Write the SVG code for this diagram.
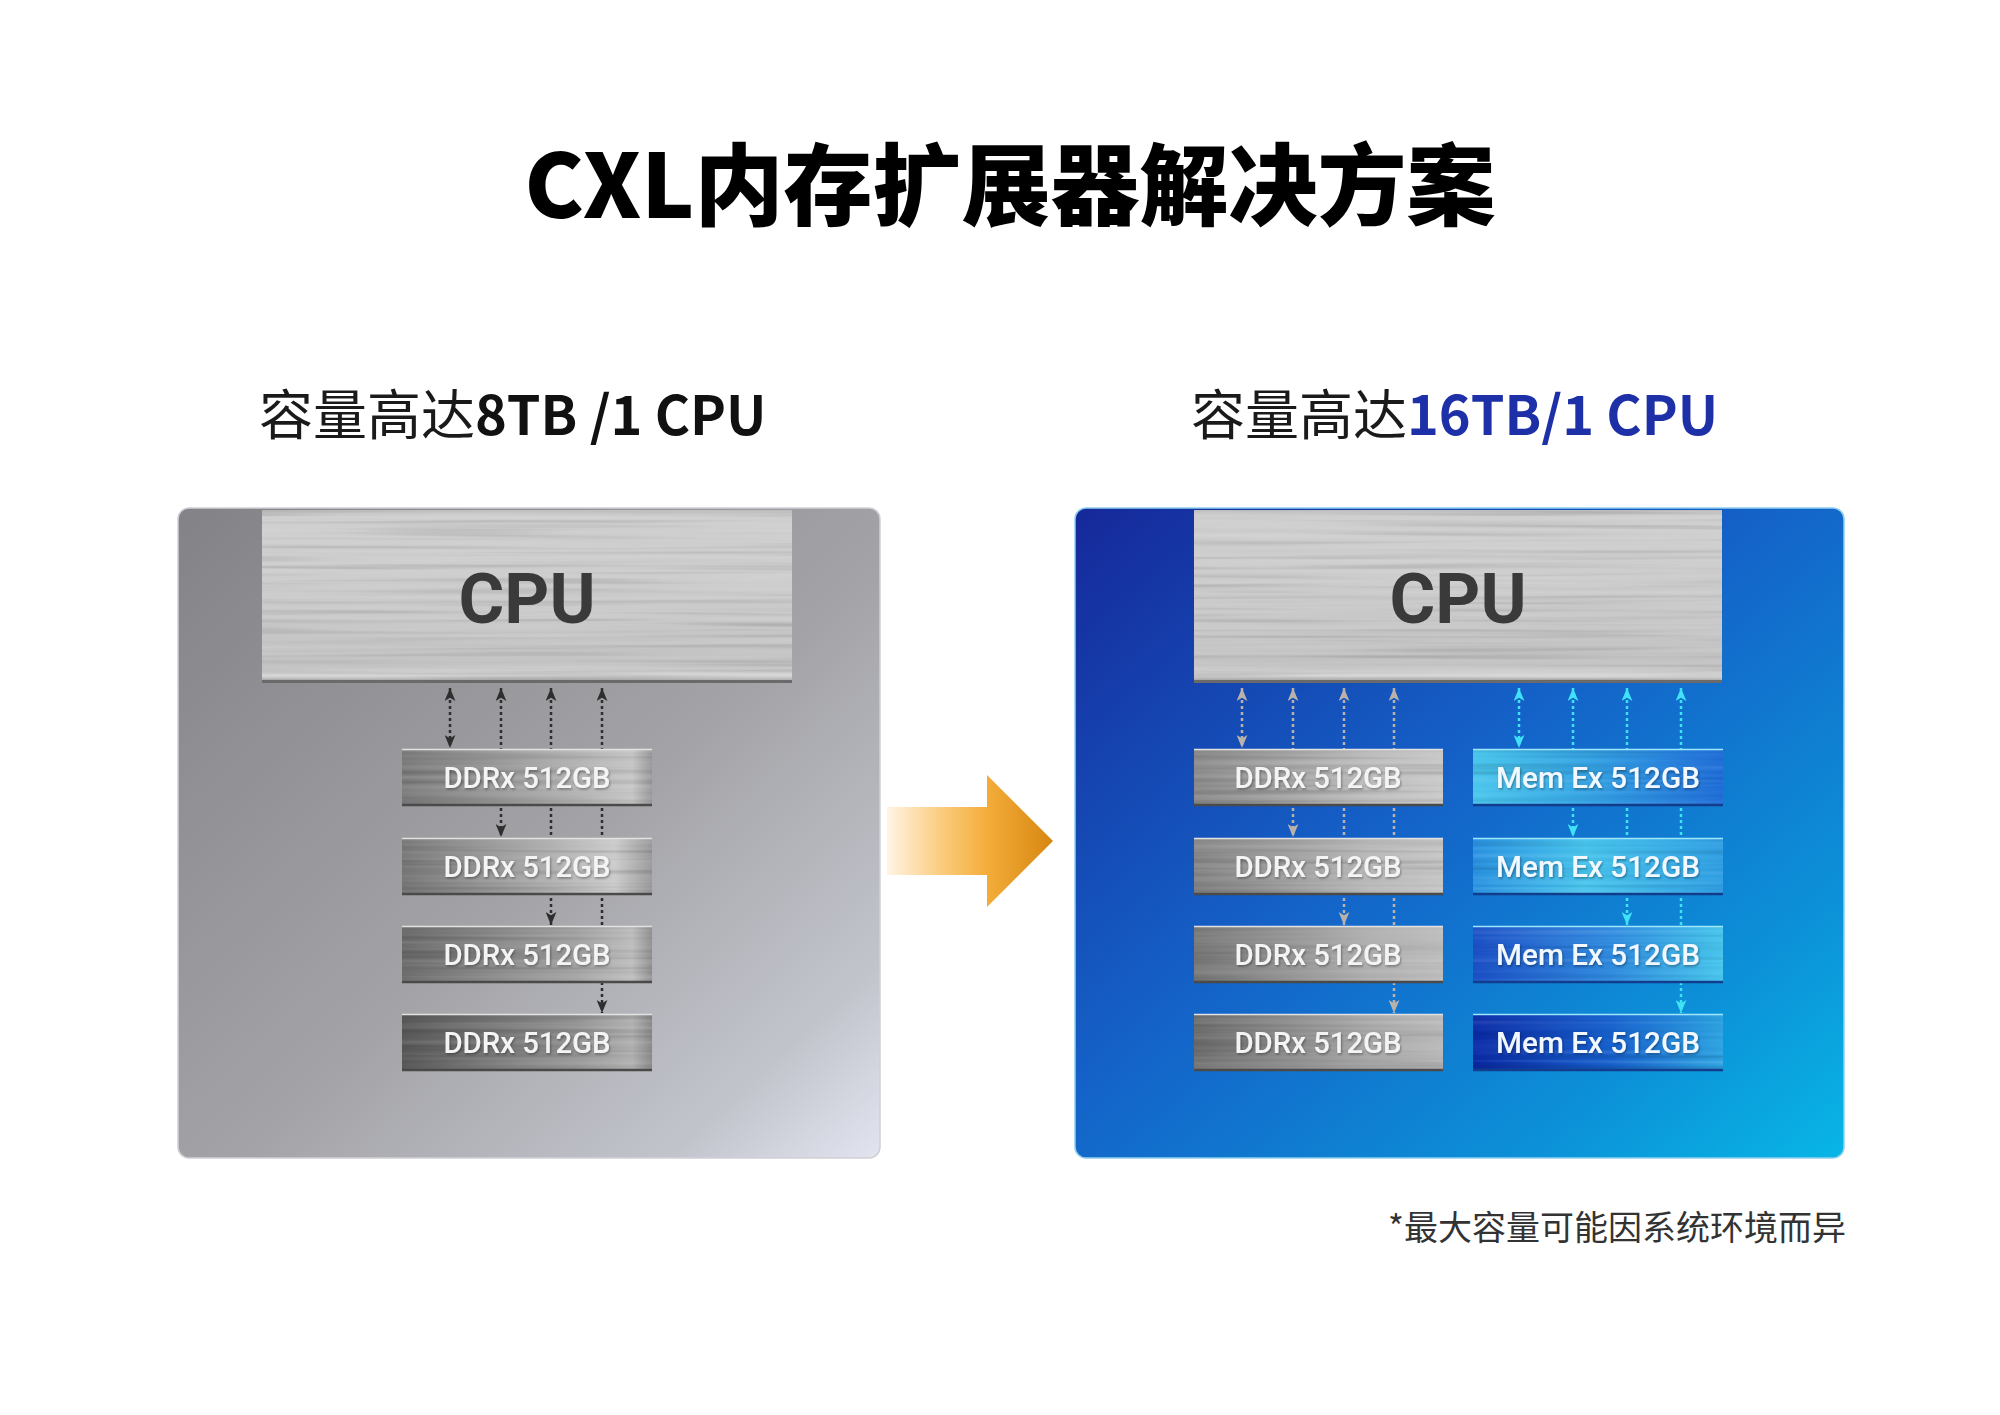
<svg xmlns="http://www.w3.org/2000/svg" width="2000" height="1415" viewBox="0 0 2000 1415">
<defs>
<style>
.title{font-family:"Noto Sans CJK SC","Noto Sans",sans-serif;font-weight:900;font-size:89px;fill:#000}
.sub{font-family:"Noto Sans CJK SC","Noto Sans",sans-serif;font-size:54px;fill:#1a1a1a}
.subb{font-weight:700}
.note{font-family:"Noto Sans CJK SC","Noto Sans",sans-serif;font-size:34px;fill:#333}
.cpu{font-family:Roboto,"Liberation Sans",sans-serif;font-weight:700;font-size:70px;fill:#3a3a3a;text-anchor:middle}
.lbl{font-family:Roboto,"Liberation Sans",sans-serif;font-weight:500;font-size:30px;fill:#f4f4f4;text-anchor:middle}
.lblb{fill:#f2f8ff}
.dk{fill:none;stroke:#2e2e2e;stroke-width:2.5;stroke-dasharray:3 3}
.gy{fill:none;stroke:#bab2aa;stroke-width:2.5;stroke-dasharray:3 3}
.cy{fill:none;stroke:#3fe2f6;stroke-width:2.5;stroke-dasharray:3 3}
.edgeT{stroke:#e2e2e2;stroke-width:1.5}
.edgeB{stroke:#4a4a4a;stroke-width:2.5}
.edgeTb{stroke:#9ee6fa;stroke-width:1.5}
.edgeBb{stroke:#123d8c;stroke-width:2.5}
</style>
<linearGradient id="panelL" x1="0" y1="0" x2="1" y2="1">
<stop offset="0" stop-color="#838387"/>
<stop offset="0.55" stop-color="#a4a4a8"/>
<stop offset="0.85" stop-color="#c2c4cc"/>
<stop offset="1" stop-color="#e2e5f0"/>
</linearGradient>
<linearGradient id="panelR" x1="0" y1="0" x2="1" y2="1">
<stop offset="0" stop-color="#16289a"/>
<stop offset="0.45" stop-color="#1462c8"/>
<stop offset="0.8" stop-color="#0c92d8"/>
<stop offset="1" stop-color="#08b6e6"/>
</linearGradient>
<linearGradient id="cpuG" x1="0" y1="0" x2="0" y2="1">
<stop offset="0" stop-color="#bdbdbd"/>
<stop offset="0.04" stop-color="#cfcfcf"/>
<stop offset="0.5" stop-color="#cbcbcb"/>
<stop offset="0.9" stop-color="#c2c2c2"/>
<stop offset="0.96" stop-color="#d6d6d6"/>
<stop offset="1" stop-color="#8a8a8a"/>
</linearGradient>
<linearGradient id="d1" x1="0" y1="0" x2="1" y2="0"><stop offset="0" stop-color="#7c7c7c"/><stop offset="0.7" stop-color="#b4b4b4"/><stop offset="0.92" stop-color="#c6c6c6"/><stop offset="1" stop-color="#9a9a9a"/></linearGradient>
<linearGradient id="d2" x1="0" y1="0" x2="1" y2="0"><stop offset="0" stop-color="#777"/><stop offset="0.6" stop-color="#b0b0b0"/><stop offset="0.85" stop-color="#cbcbcb"/><stop offset="1" stop-color="#9a9a9a"/></linearGradient>
<linearGradient id="d3" x1="0" y1="0" x2="1" y2="0"><stop offset="0" stop-color="#6a6a6a"/><stop offset="0.7" stop-color="#a2a2a2"/><stop offset="0.92" stop-color="#bdbdbd"/><stop offset="1" stop-color="#919191"/></linearGradient>
<linearGradient id="d4" x1="0" y1="0" x2="1" y2="0"><stop offset="0" stop-color="#585858"/><stop offset="0.7" stop-color="#939393"/><stop offset="0.92" stop-color="#b0b0b0"/><stop offset="1" stop-color="#8a8a8a"/></linearGradient>
<linearGradient id="r1" x1="0" y1="0" x2="1" y2="0"><stop offset="0" stop-color="#8c8c8c"/><stop offset="0.7" stop-color="#bcbcbc"/><stop offset="1" stop-color="#c8c8c8"/></linearGradient>
<linearGradient id="r2" x1="0" y1="0" x2="1" y2="0"><stop offset="0" stop-color="#858585"/><stop offset="0.7" stop-color="#b8b8b8"/><stop offset="1" stop-color="#c4c4c4"/></linearGradient>
<linearGradient id="r3" x1="0" y1="0" x2="1" y2="0"><stop offset="0" stop-color="#787878"/><stop offset="0.7" stop-color="#b0b0b0"/><stop offset="1" stop-color="#bdbdbd"/></linearGradient>
<linearGradient id="r4" x1="0" y1="0" x2="1" y2="0"><stop offset="0" stop-color="#6c6c6c"/><stop offset="0.7" stop-color="#a8a8a8"/><stop offset="1" stop-color="#b8b8b8"/></linearGradient>
<linearGradient id="m1" x1="0" y1="0" x2="1" y2="0"><stop offset="0" stop-color="#4ac6ec"/><stop offset="0.45" stop-color="#35a4e4"/><stop offset="1" stop-color="#1f6cd6"/></linearGradient>
<linearGradient id="m2" x1="0" y1="0" x2="1" y2="0"><stop offset="0" stop-color="#2a92e0"/><stop offset="0.45" stop-color="#48c4ec"/><stop offset="1" stop-color="#309ee2"/></linearGradient>
<linearGradient id="m3" x1="0" y1="0" x2="1" y2="0"><stop offset="0" stop-color="#1c50c6"/><stop offset="0.55" stop-color="#2f8ade"/><stop offset="1" stop-color="#48c6ec"/></linearGradient>
<linearGradient id="m4" x1="0" y1="0" x2="1" y2="0"><stop offset="0" stop-color="#0a2aa6"/><stop offset="0.55" stop-color="#1660cc"/><stop offset="1" stop-color="#2ea4e2"/></linearGradient>
<linearGradient id="orange" x1="887" y1="0" x2="1053" y2="0" gradientUnits="userSpaceOnUse">
<stop offset="0" stop-color="#fff4e6"/>
<stop offset="0.3" stop-color="#fbcf86"/>
<stop offset="0.6" stop-color="#f4ad3a"/>
<stop offset="1" stop-color="#d68710"/>
</linearGradient>
<filter id="brush" x="0" y="0" width="100%" height="100%" color-interpolation-filters="sRGB">
<feTurbulence type="fractalNoise" baseFrequency="0.003 0.2" numOctaves="2" seed="4" result="n"/>
<feColorMatrix in="n" type="matrix" values="0.09 0.09 0.09 0 0.365  0.09 0.09 0.09 0 0.365  0.09 0.09 0.09 0 0.365  0 0 0 0 1" result="g"/>
<feBlend in="SourceGraphic" in2="g" mode="overlay" result="b"/>
<feComposite in="b" in2="SourceGraphic" operator="in"/>
</filter>
<filter id="tsh" x="-10%" y="-30%" width="120%" height="160%">
<feDropShadow dx="1" dy="1.5" stdDeviation="1" flood-color="#000" flood-opacity="0.35"/>
</filter>
<marker id="aK" viewBox="0 0 12 10" refX="12" refY="5" markerWidth="13" markerHeight="11" markerUnits="userSpaceOnUse" orient="auto-start-reverse"><path d="M0,0 L12,5 L0,10 L3,5 Z" fill="#2e2e2e"/></marker>
<marker id="aG" viewBox="0 0 12 10" refX="12" refY="5" markerWidth="13" markerHeight="11" markerUnits="userSpaceOnUse" orient="auto-start-reverse"><path d="M0,0 L12,5 L0,10 L3,5 Z" fill="#bab2aa"/></marker>
<marker id="aC" viewBox="0 0 12 10" refX="12" refY="5" markerWidth="13" markerHeight="11" markerUnits="userSpaceOnUse" orient="auto-start-reverse"><path d="M0,0 L12,5 L0,10 L3,5 Z" fill="#3fe2f6"/></marker>
</defs>
<rect width="2000" height="1415" fill="#ffffff"/>

<text class="title" x="1010" y="218" text-anchor="middle">CXL内存扩展器解决方案</text>
<text class="sub" x="259" y="435">容量高达<tspan class="subb" fill="#111">8TB /1 CPU</tspan></text>
<text class="sub" x="1191" y="435">容量高达<tspan class="subb" fill="#1e30a8">16TB/1 CPU</tspan></text>

<g id="panel-left">
<rect x="178" y="508" width="702" height="650" rx="11" fill="url(#panelL)" stroke="#cfd0d6" stroke-width="1.5"/>
</g>
<g id="panel-right">
<rect x="1075" y="508" width="769" height="650" rx="11" fill="url(#panelR)" stroke="#8fd0f0" stroke-width="1.5"/>
</g>

<g id="transition-arrow">
<path d="M887,807 L987,807 L987,775 L1053,841 L987,907 L987,875 L887,875 Z" fill="url(#orange)"/>
</g>

<g id="connectors">
<path class="dk" d="M450,688 V748" marker-start="url(#aK)" marker-end="url(#aK)"/>
<path class="dk" d="M501,688 V837" marker-start="url(#aK)" marker-end="url(#aK)"/>
<path class="dk" d="M551,688 V925" marker-start="url(#aK)" marker-end="url(#aK)"/>
<path class="dk" d="M602,688 V1013" marker-start="url(#aK)" marker-end="url(#aK)"/>
<path class="gy" d="M1242,688 V748" marker-start="url(#aG)" marker-end="url(#aG)"/>
<path class="gy" d="M1293,688 V837" marker-start="url(#aG)" marker-end="url(#aG)"/>
<path class="gy" d="M1344,688 V925" marker-start="url(#aG)" marker-end="url(#aG)"/>
<path class="gy" d="M1394,688 V1013" marker-start="url(#aG)" marker-end="url(#aG)"/>
<path class="cy" d="M1519,688 V748" marker-start="url(#aC)" marker-end="url(#aC)"/>
<path class="cy" d="M1573,688 V837" marker-start="url(#aC)" marker-end="url(#aC)"/>
<path class="cy" d="M1627,688 V925" marker-start="url(#aC)" marker-end="url(#aC)"/>
<path class="cy" d="M1681,688 V1013" marker-start="url(#aC)" marker-end="url(#aC)"/>
</g>

<g id="cpu-left">
<rect x="262" y="510" width="530" height="173" fill="url(#cpuG)" filter="url(#brush)"/>
<line x1="262" y1="681.5" x2="792" y2="681.5" stroke="#6a6a6a" stroke-width="3"/>
<text class="cpu" x="527" y="623">CPU</text>
</g>
<g id="cpu-right">
<rect x="1194" y="510" width="528" height="173" fill="url(#cpuG)" filter="url(#brush)"/>
<line x1="1194" y1="681.5" x2="1722" y2="681.5" stroke="#6a6a6a" stroke-width="3"/>
<text class="cpu" x="1458" y="623">CPU</text>
</g>

<g id="ddr-left-1">
<rect x="402" y="749" width="250" height="57" fill="url(#d1)" filter="url(#brush)"/>
<line class="edgeT" x1="402" y1="749.5" x2="652" y2="749.5"/><line class="edgeB" x1="402" y1="805" x2="652" y2="805"/>
<text class="lbl" x="527" y="788" textLength="167" lengthAdjust="spacingAndGlyphs" filter="url(#tsh)">DDRx 512GB</text>
</g>
<g id="ddr-left-2">
<rect x="402" y="838" width="250" height="57" fill="url(#d2)" filter="url(#brush)"/>
<line class="edgeT" x1="402" y1="838.5" x2="652" y2="838.5"/><line class="edgeB" x1="402" y1="894" x2="652" y2="894"/>
<text class="lbl" x="527" y="877" textLength="167" lengthAdjust="spacingAndGlyphs" filter="url(#tsh)">DDRx 512GB</text>
</g>
<g id="ddr-left-3">
<rect x="402" y="926" width="250" height="57" fill="url(#d3)" filter="url(#brush)"/>
<line class="edgeT" x1="402" y1="926.5" x2="652" y2="926.5"/><line class="edgeB" x1="402" y1="982" x2="652" y2="982"/>
<text class="lbl" x="527" y="965" textLength="167" lengthAdjust="spacingAndGlyphs" filter="url(#tsh)">DDRx 512GB</text>
</g>
<g id="ddr-left-4">
<rect x="402" y="1014" width="250" height="57" fill="url(#d4)" filter="url(#brush)"/>
<line class="edgeT" x1="402" y1="1014.5" x2="652" y2="1014.5"/><line class="edgeB" x1="402" y1="1070" x2="652" y2="1070"/>
<text class="lbl" x="527" y="1053" textLength="167" lengthAdjust="spacingAndGlyphs" filter="url(#tsh)">DDRx 512GB</text>
</g>

<g id="ddr-right-1">
<rect x="1194" y="749" width="249" height="57" fill="url(#r1)" filter="url(#brush)"/>
<line class="edgeT" x1="1194" y1="749.5" x2="1443" y2="749.5"/><line class="edgeB" x1="1194" y1="805" x2="1443" y2="805"/>
<text class="lbl" x="1318" y="788" textLength="167" lengthAdjust="spacingAndGlyphs" filter="url(#tsh)">DDRx 512GB</text>
</g>
<g id="ddr-right-2">
<rect x="1194" y="838" width="249" height="57" fill="url(#r2)" filter="url(#brush)"/>
<line class="edgeT" x1="1194" y1="838.5" x2="1443" y2="838.5"/><line class="edgeB" x1="1194" y1="894" x2="1443" y2="894"/>
<text class="lbl" x="1318" y="877" textLength="167" lengthAdjust="spacingAndGlyphs" filter="url(#tsh)">DDRx 512GB</text>
</g>
<g id="ddr-right-3">
<rect x="1194" y="926" width="249" height="57" fill="url(#r3)" filter="url(#brush)"/>
<line class="edgeT" x1="1194" y1="926.5" x2="1443" y2="926.5"/><line class="edgeB" x1="1194" y1="982" x2="1443" y2="982"/>
<text class="lbl" x="1318" y="965" textLength="167" lengthAdjust="spacingAndGlyphs" filter="url(#tsh)">DDRx 512GB</text>
</g>
<g id="ddr-right-4">
<rect x="1194" y="1014" width="249" height="57" fill="url(#r4)" filter="url(#brush)"/>
<line class="edgeT" x1="1194" y1="1014.5" x2="1443" y2="1014.5"/><line class="edgeB" x1="1194" y1="1070" x2="1443" y2="1070"/>
<text class="lbl" x="1318" y="1053" textLength="167" lengthAdjust="spacingAndGlyphs" filter="url(#tsh)">DDRx 512GB</text>
</g>

<g id="memex-1">
<rect x="1473" y="749" width="250" height="57" fill="url(#m1)" filter="url(#brush)"/>
<line class="edgeTb" x1="1473" y1="749.5" x2="1723" y2="749.5"/><line class="edgeBb" x1="1473" y1="805" x2="1723" y2="805"/>
<text class="lbl lblb" x="1598" y="788" textLength="204" lengthAdjust="spacingAndGlyphs" filter="url(#tsh)">Mem Ex 512GB</text>
</g>
<g id="memex-2">
<rect x="1473" y="838" width="250" height="57" fill="url(#m2)" filter="url(#brush)"/>
<line class="edgeTb" x1="1473" y1="838.5" x2="1723" y2="838.5"/><line class="edgeBb" x1="1473" y1="894" x2="1723" y2="894"/>
<text class="lbl lblb" x="1598" y="877" textLength="204" lengthAdjust="spacingAndGlyphs" filter="url(#tsh)">Mem Ex 512GB</text>
</g>
<g id="memex-3">
<rect x="1473" y="926" width="250" height="57" fill="url(#m3)" filter="url(#brush)"/>
<line class="edgeTb" x1="1473" y1="926.5" x2="1723" y2="926.5"/><line class="edgeBb" x1="1473" y1="982" x2="1723" y2="982"/>
<text class="lbl lblb" x="1598" y="965" textLength="204" lengthAdjust="spacingAndGlyphs" filter="url(#tsh)">Mem Ex 512GB</text>
</g>
<g id="memex-4">
<rect x="1473" y="1014" width="250" height="57" fill="url(#m4)" filter="url(#brush)"/>
<line class="edgeTb" x1="1473" y1="1014.5" x2="1723" y2="1014.5"/><line class="edgeBb" x1="1473" y1="1070" x2="1723" y2="1070"/>
<text class="lbl lblb" x="1598" y="1053" textLength="204" lengthAdjust="spacingAndGlyphs" filter="url(#tsh)">Mem Ex 512GB</text>
</g>

<text class="note" x="1846" y="1240" text-anchor="end">*最大容量可能因系统环境而异</text>
</svg>
